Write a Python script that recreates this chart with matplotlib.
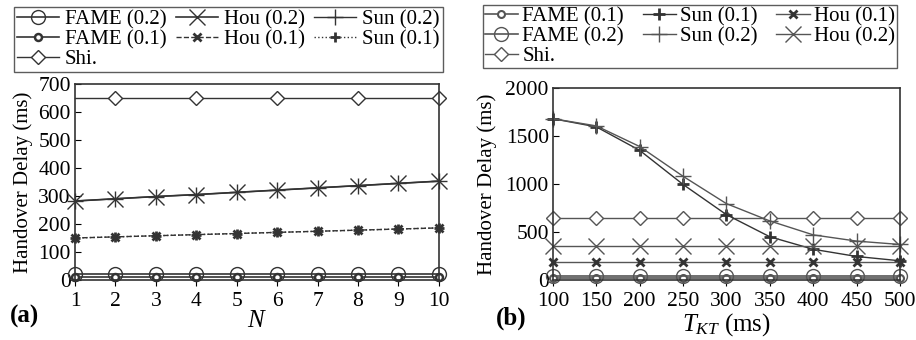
import matplotlib
matplotlib.use("Agg")
import matplotlib.pyplot as plt

plt.rcParams['font.family'] = ['Liberation Serif', 'DejaVu Serif']
plt.rcParams['mathtext.fontset'] = 'custom'
plt.rcParams['mathtext.rm'] = 'Liberation Serif'
plt.rcParams['mathtext.it'] = 'Liberation Serif:italic'
plt.rcParams['font.size'] = 15

# ---- Panel (a) data ----
n_vals = [1, 2, 3, 4, 5, 6, 7, 8, 9, 10]
a_fame02 = [22, 22, 22, 22, 22, 22, 22, 22, 22, 22]
a_fame01 = [12, 12, 12, 12, 12, 12, 12, 12, 12, 12]
a_shi = [650, 650, 650, 650, 650, 650, 650, 650, 650, 650]
a_hou02 = [282, 290, 298, 305, 313, 321, 329, 337, 345, 353]
a_hou01 = [150, 154, 158, 162, 166, 170, 174, 178, 182, 186]
a_sun02 = [282, 290, 298, 305, 313, 321, 329, 337, 345, 353]
a_sun01 = [150, 154, 158, 162, 166, 170, 174, 178, 182, 186]

# ---- Panel (b) data ----
t_vals = [100, 150, 200, 250, 300, 350, 400, 450, 500]
b_fame01 = [25, 25, 25, 25, 25, 25, 25, 25, 25]
b_fame02 = [40, 40, 40, 40, 40, 40, 40, 40, 40]
b_shi = [650, 650, 650, 650, 650, 650, 650, 650, 650]
b_hou01 = [185, 185, 185, 185, 185, 185, 185, 185, 185]
b_hou02 = [355, 355, 355, 355, 355, 355, 355, 355, 355]
b_sun01 = [1680, 1595, 1350, 995, 680, 450, 320, 245, 200]
b_sun02 = [1680, 1605, 1390, 1080, 795, 615, 470, 405, 370]

fig = plt.figure(figsize=(9.16, 3.4), dpi=100)
ax1 = fig.add_axes([0.0819, 0.1765, 0.3971, 0.5765])
ax2 = fig.add_axes([0.6037, 0.1765, 0.3788, 0.5647])

dark = '#333333'
gray = '#555555'

# Panel (a)
l1, = ax1.plot(n_vals, a_fame02, '-', color=dark, lw=1.2, marker='o', ms=10, mfc='none', mec=dark, mew=1.0, label='FAME (0.2)')
l2, = ax1.plot(n_vals, a_fame01, '-', color=dark, lw=1.2, marker='o', ms=5, mfc='white', mec=dark, mew=1.8, label='FAME (0.1)')
l3, = ax1.plot(n_vals, a_shi, '-', color=dark, lw=1.0, marker='D', ms=7, mfc='white', mec=dark, mew=1.0, markevery=slice(1, None, 2), label='Shi.')
l4, = ax1.plot(n_vals, a_hou02, '-', color=dark, lw=1.2, marker='x', ms=11, mew=1.0, label='Hou (0.2)')
l5, = ax1.plot(n_vals, a_hou01, '--', color=dark, lw=1.0, marker='x', ms=6, mew=2.0, label='Hou (0.1)')
l6, = ax1.plot(n_vals, a_sun02, '-', color=dark, lw=1.0, marker='+', ms=11, mew=1.0, label='Sun (0.2)')
l7, = ax1.plot(n_vals, a_sun01, ':', color=dark, lw=1.0, marker='+', ms=7, mew=2.0, label='Sun (0.1)')
ax1.set_xlim(1, 10)
ax1.set_ylim(0, 700)
ax1.set_xticks(n_vals)
ax1.set_yticks(range(0, 701, 100))
ax1.set_ylabel('Handover Delay (ms)', labelpad=4)
ax1.set_xlabel('$N$', labelpad=-1, fontsize=18)

fig.legend(handles=[l1, l2, l3, l4, l5, l6, l7], ncol=3, mode='expand',
           bbox_to_anchor=(0.0153, 0.788, 0.468, 0.197), loc='lower left',
           frameon=True, fancybox=False, edgecolor='#333333', handlelength=2.0,
           handletextpad=0.3, labelspacing=0.0, borderpad=0.15, borderaxespad=0,
           fontsize=15)

# Panel (b)
m1, = ax2.plot(t_vals, b_fame01, '-', color=gray, lw=1.2, marker='o', ms=5, mfc='white', mec=gray, mew=1.5, label='FAME (0.1)')
m2, = ax2.plot(t_vals, b_fame02, '-', color=gray, lw=1.2, marker='o', ms=10, mfc='none', mec=gray, mew=1.0, label='FAME (0.2)')
m3, = ax2.plot(t_vals, b_shi, '-', color=gray, lw=1.0, marker='D', ms=7, mfc='white', mec=gray, mew=1.0, label='Shi.')
m4, = ax2.plot(t_vals, b_sun01, '-', color=dark, lw=1.0, marker='+', ms=8, mew=2.0, label='Sun (0.1)')
m5, = ax2.plot(t_vals, b_sun02, '-', color=gray, lw=1.0, marker='+', ms=11, mew=1.0, label='Sun (0.2)')
m6, = ax2.plot(t_vals, b_hou01, '-', color=gray, lw=1.0, marker='x', ms=6, mew=2.0, mec=dark, label='Hou (0.1)')
m7, = ax2.plot(t_vals, b_hou02, '-', color=gray, lw=1.0, marker='x', ms=11, mew=1.0, label='Hou (0.2)')
ax2.set_xlim(100, 500)
ax2.set_ylim(0, 2000)
ax2.set_xticks(t_vals)
ax2.set_yticks(range(0, 2001, 500))
ax2.set_ylabel('Handover Delay (ms)', labelpad=6)
ax2.set_xlabel('$T_{KT}$ (ms)', labelpad=0, fontsize=18)

fig.legend(handles=[m1, m2, m3, m4, m5, m6, m7], ncol=3, mode='expand',
           bbox_to_anchor=(0.527, 0.80, 0.452, 0.185), loc='lower left',
           frameon=True, fancybox=False, edgecolor='#333333', handlelength=1.6,
           handletextpad=0.2, labelspacing=0.0, borderpad=0.1, borderaxespad=0,
           fontsize=15)

for ax in (ax1, ax2):
    for sp in ax.spines.values():
        sp.set_linewidth(1.2)
        sp.set_color('#333333')
    ax.tick_params(axis='y', direction='in', length=4, pad=3)
    ax.tick_params(axis='x', direction='inout', length=8, pad=5)
    ax.tick_params(labelsize=15.5)
    for m in ax.lines:
        m.set_clip_on(False)

fig.text(0.011, 0.05, '(a)', fontsize=18, fontweight='bold')
fig.text(0.541, 0.045, '(b)', fontsize=18, fontweight='bold')

fig.savefig('out.png', dpi=100)
